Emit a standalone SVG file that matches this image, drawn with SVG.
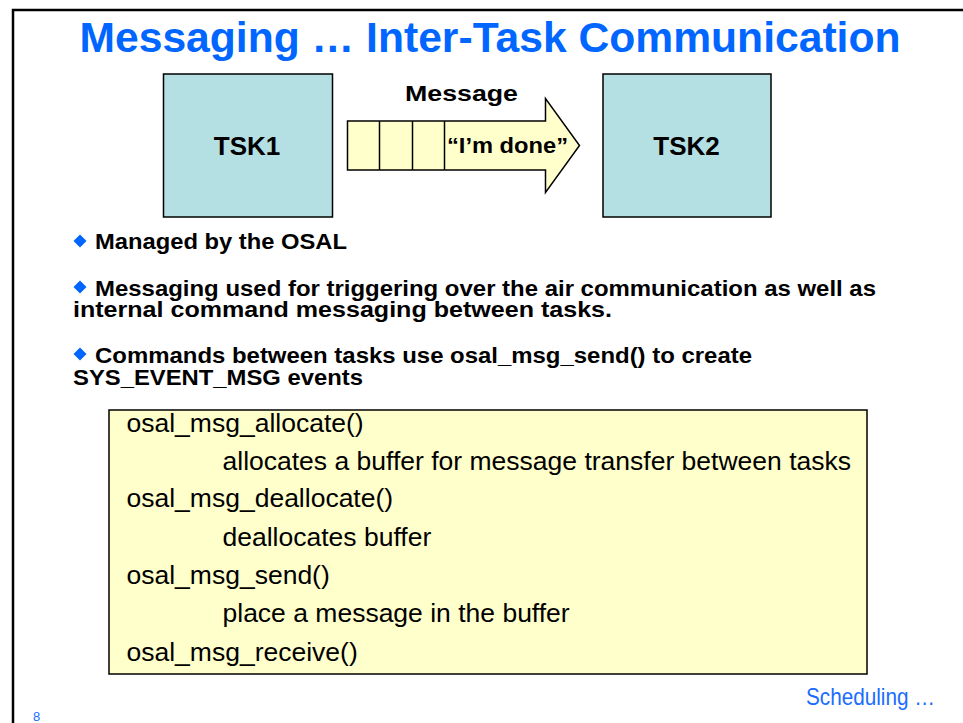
<svg xmlns="http://www.w3.org/2000/svg" width="963" height="723" viewBox="0 0 963 723">
  <style>
    .title { font-family: "Liberation Sans", Arial, sans-serif; font-weight: bold; font-size: 42px; fill: #0066FF; }
    .task { fill: #B4DFE3; stroke: #000; stroke-width: 1.5; }
    .tasklbl { font-family: "Liberation Sans", Arial, sans-serif; font-weight: bold; font-size: 26px; fill: #000; text-anchor: middle; }
    .msg { fill: #FFFFCC; stroke: #000; stroke-width: 1.5; }
    .bold { font-family: "Liberation Sans", Arial, sans-serif; font-weight: bold; font-size: 22px; fill: #000; }
    .bullet { fill: #0066FF; }
    .code { font-family: "Liberation Sans", Arial, sans-serif; font-size: 26.5px; fill: #000; }
    .blue { font-family: "Liberation Sans", Arial, sans-serif; fill: #1A6CFF; }
  </style>

  <!-- page frame -->
  <path d="M13,723 V10 H963" fill="none" stroke="#000" stroke-width="2.5"/>

  <text class="title" x="490" y="52" text-anchor="middle" textLength="821" lengthAdjust="spacingAndGlyphs">Messaging … Inter-Task Communication</text>

  <g id="tsk1">
    <rect class="task" x="163.5" y="74" width="169" height="143"/>
    <text class="tasklbl" x="247" y="155">TSK1</text>
  </g>

  <g id="tsk2">
    <rect class="task" x="603" y="74" width="168" height="143"/>
    <text class="tasklbl" x="686.5" y="155">TSK2</text>
  </g>

  <g id="connectors">
    <g id="message">
      <text class="bold" x="405" y="101" font-size="26" textLength="113" lengthAdjust="spacingAndGlyphs">Message</text>
      <path class="msg" d="M347.5,121 H545.5 V98.5 L579.5,145.5 L545.5,192.5 V170 H347.5 Z"/>
      <path d="M379.5,121 V170 M412.5,121 V170 M444.5,121 V170" stroke="#000" stroke-width="1.5" fill="none"/>
      <text class="bold" x="447" y="153" font-size="23" textLength="121" lengthAdjust="spacingAndGlyphs">“I’m done”</text>
    </g>
  </g>

  <!-- bullet list -->
  <g id="bullets">
    <path class="bullet" d="M80,234.5 L86.5,241 L80,247.5 L73.5,241 Z"/>
    <text class="bold" x="95" y="249" textLength="252" lengthAdjust="spacingAndGlyphs">Managed by the OSAL</text>

    <path class="bullet" d="M80,280.5 L86.5,287 L80,293.5 L73.5,287 Z"/>
    <text class="bold" x="95" y="296" textLength="781" lengthAdjust="spacingAndGlyphs">Messaging used for triggering over the air communication as well as</text>
    <text class="bold" x="73" y="317" textLength="539" lengthAdjust="spacingAndGlyphs">internal command messaging between tasks.</text>

    <path class="bullet" d="M80,347.5 L86.5,354 L80,360.5 L73.5,354 Z"/>
    <text class="bold" x="95" y="363" textLength="657" lengthAdjust="spacingAndGlyphs">Commands between tasks use osal_msg_send() to create</text>
    <text class="bold" x="73" y="385" textLength="290" lengthAdjust="spacingAndGlyphs">SYS_EVENT_MSG events</text>
  </g>

  <!-- API summary box -->
  <g id="api">
    <rect x="109" y="410" width="758" height="264" fill="#FFFFCC" stroke="#000" stroke-width="1.5"/>
    <text class="code" x="126.5" y="432">osal_msg_allocate()</text>
    <text class="code" x="222.5" y="470">allocates a buffer for message transfer between tasks</text>
    <text class="code" x="126.5" y="507">osal_msg_deallocate()</text>
    <text class="code" x="222.5" y="546">deallocates buffer</text>
    <text class="code" x="126.5" y="584">osal_msg_send()</text>
    <text class="code" x="222.5" y="622">place a message in the buffer</text>
    <text class="code" x="126.5" y="661">osal_msg_receive()</text>
  </g>

  <text class="blue" x="806" y="705" font-size="24" textLength="129" lengthAdjust="spacingAndGlyphs">Scheduling …</text>
  <text class="blue" x="33" y="721" font-size="13">8</text>
</svg>
